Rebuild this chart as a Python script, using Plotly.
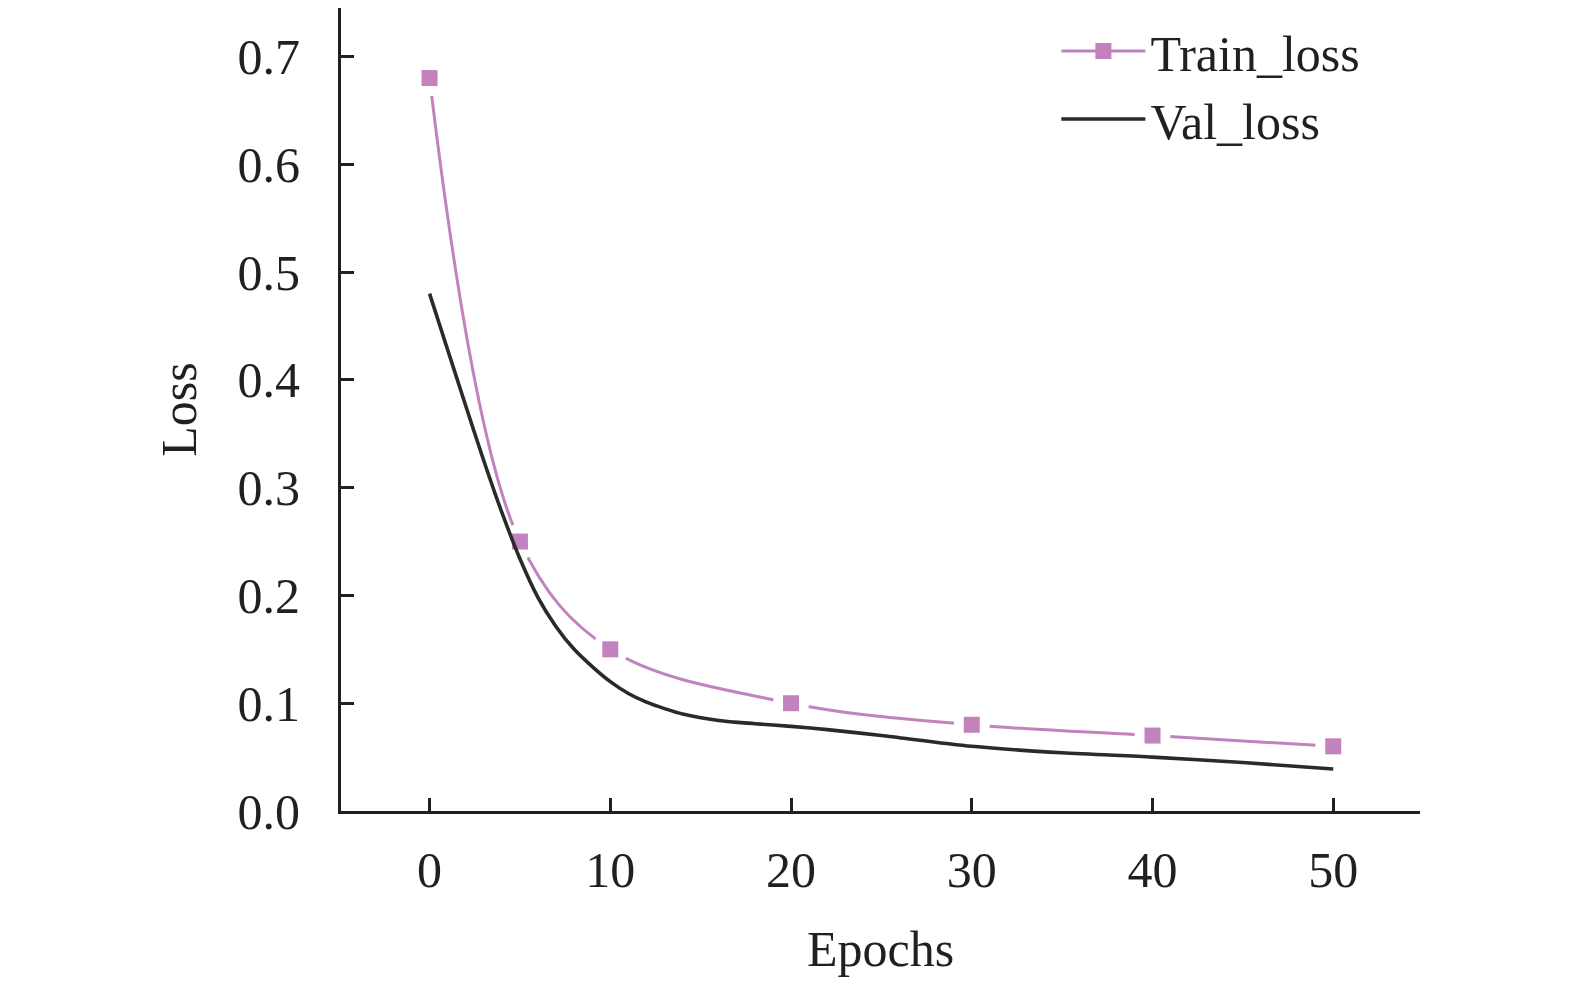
import plotly.graph_objects as go

# ---- data ----
train_epochs = [0, 5, 10, 20, 30, 40, 50]
train_loss = [0.68, 0.25, 0.15, 0.10, 0.08, 0.07, 0.06]

val_epochs = [0, 1, 2, 3, 4, 5, 6, 7, 8, 9, 10, 11, 12, 13, 14, 16, 18, 20, 22, 25, 30, 35, 40, 45, 50]
val_loss = [0.480, 0.428, 0.376, 0.325, 0.277, 0.234, 0.198, 0.171, 0.150, 0.134, 0.120,
            0.109, 0.101, 0.095, 0.090, 0.084, 0.081, 0.0785, 0.0755, 0.070, 0.060, 0.054,
            0.050, 0.045, 0.039]

x_ticks = [0, 10, 20, 30, 40, 50]
y_ticks = [0.0, 0.1, 0.2, 0.3, 0.4, 0.5, 0.6, 0.7]
y_tick_labels = ["0.0", "0.1", "0.2", "0.3", "0.4", "0.5", "0.6", "0.7"]

PINK = "#c182bd"
DARK = "#2b2a2b"
AXC = "#231f20"
FONT = "Liberation Serif"

fig = go.Figure()

# legend-only entry for Train_loss
fig.add_trace(go.Scatter(x=[None], y=[None], mode="lines+markers", name="Train_loss",
                         line=dict(color=PINK, width=3),
                         marker=dict(symbol="square", size=16, color=PINK)))
# train line
fig.add_trace(go.Scatter(x=train_epochs, y=train_loss, mode="lines", showlegend=False,
                         line=dict(color=PINK, width=3, shape="spline", smoothing=1.0),
                         hoverinfo="skip"))
# white gaps around markers
fig.add_trace(go.Scatter(x=train_epochs, y=train_loss, mode="markers", showlegend=False,
                         marker=dict(symbol="circle", size=36, color="white"),
                         hoverinfo="skip"))
# train markers
fig.add_trace(go.Scatter(x=train_epochs, y=train_loss, mode="markers", showlegend=False,
                         marker=dict(symbol="square", size=16, color=PINK)))
# val line
fig.add_trace(go.Scatter(x=val_epochs, y=val_loss, mode="lines", name="Val_loss",
                         line=dict(color=DARK, width=3.6, shape="spline", smoothing=0.8)))

axis_common = dict(
    showline=True, linecolor=AXC, linewidth=3,
    ticks="inside", ticklen=13, tickwidth=3, tickcolor=AXC,
    showgrid=False, zeroline=False,
    tickfont=dict(family=FONT, size=50, color=AXC),
    title_font=dict(family=FONT, size=50, color=AXC),
)

fig.update_xaxes(range=[-4.9, 54.8], tickvals=x_ticks, title_text="Epochs",
                 ticklabelstandoff=13, title_standoff=34, **axis_common)
fig.update_yaxes(range=[0, 0.745], tickvals=y_ticks, ticktext=y_tick_labels, title_text="Loss",
                 ticklabelstandoff=28, title_standoff=26, **axis_common)

fig.update_layout(
    width=1567, height=978,
    margin=dict(l=333, r=155, t=0, b=175),
    plot_bgcolor="white", paper_bgcolor="white",
    font=dict(family=FONT, size=50, color=AXC),
    legend=dict(x=0.663, y=0.995, xanchor="left", yanchor="top",
                bgcolor="rgba(0,0,0,0)", itemwidth=84,
                font=dict(family=FONT, size=50, color=AXC),
                tracegroupgap=0),
)

fig.write_html("out.html")
